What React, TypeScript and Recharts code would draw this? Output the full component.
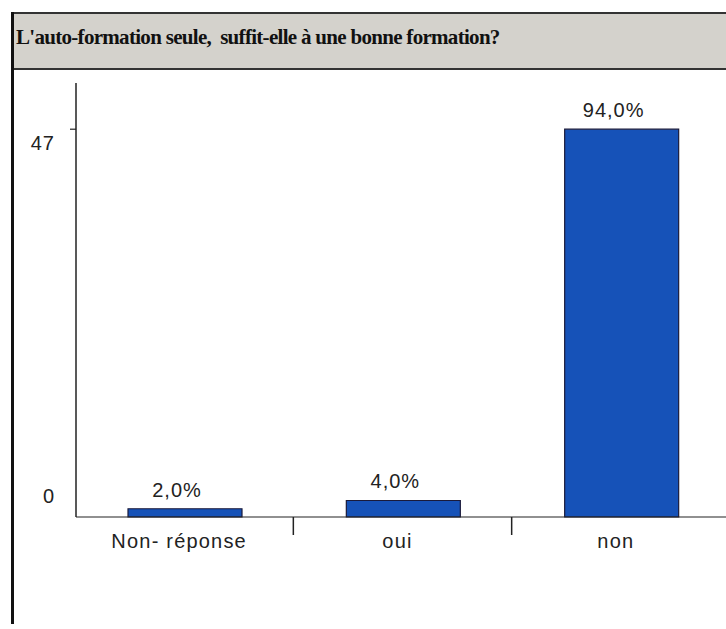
import React from 'react';
import {Bar, BarChart, LabelList, XAxis, YAxis} from 'recharts';

const categories = ['Non- réponse', 'oui', 'non'];
const counts = [1, 2, 47];
const percents = ['2,0%', '4,0%', '94,0%'];
const yTicks = [0, 47];

const data = categories.map((name, i) => ({name, count: counts[i], pct: percents[i]}));

const FONT = '"Liberation Sans", Arial, sans-serif';
const BAND = 655 / 3;

const XTick = (props: any) => {
  const {x, y, payload, index} = props;
  return (
    <g>
      <text x={x - 6} y={y + 31} textAnchor="middle" fill="#222" fontSize={20} letterSpacing={1.2} fontFamily={FONT}>
        {payload.value}
      </text>
      {index < categories.length - 1 && (
        <line x1={x + BAND / 2 - 1} x2={x + BAND / 2 - 1} y1={y} y2={y + 18} stroke="#222" strokeWidth={1.5} />
      )}
    </g>
  );
};

const YTick = (props: any) => {
  const {x, y, payload} = props;
  const top = payload.value !== 0;
  return (
    <g>
      {top && <line x1={x - 6} x2={x} y1={y} y2={y} stroke="#222" strokeWidth={1.2} />}
      <text x={55} y={top ? y + 21 : y - 14} textAnchor="end" fill="#222" fontSize={20} letterSpacing={1} fontFamily={FONT}>
        {payload.value}
      </text>
    </g>
  );
};

const BarLabel = (props: any) => {
  const {x, y, width, value} = props;
  return (
    <text x={x + width / 2 - 8} y={y - 12} textAnchor="middle" fill="#222" fontSize={20} letterSpacing={1} fontFamily={FONT}>
      {value}
    </text>
  );
};

export default function App() {
  return (
    <div style={{position: 'fixed', left: 0, top: 0, width: 726, height: 629, overflow: 'hidden', background: '#fff'}}>
      <div
        style={{
          position: 'absolute',
          left: 11,
          top: 12,
          width: 710,
          height: 54,
          background: '#d4d2cc',
          borderTop: '2px solid #333',
          borderBottom: '2px solid #333',
          fontFamily: '"Liberation Serif", "Times New Roman", serif',
          fontWeight: 'bold',
          fontSize: 21,
          letterSpacing: -0.7,
          color: '#111',
          lineHeight: '46px',
          paddingLeft: 5,
          boxSizing: 'content-box',
          whiteSpace: 'pre',
        }}
      >
        {"L'auto-formation seule,  suffit-elle à une bonne formation?"}
      </div>
      <div style={{position: 'absolute', left: 11, top: 12, width: 3, height: 612, background: '#111'}} />
      <div style={{position: 'absolute', left: 0, top: 0}}>
        <BarChart width={726} height={629} data={data} margin={{top: 83, right: -5, bottom: 0, left: 16}}>
          <XAxis
            dataKey="name"
            height={112}
            tickSize={0}
            tickMargin={0}
            tick={<XTick />}
            axisLine={{stroke: '#222', strokeWidth: 1.2}}
            interval={0}
          />
          <YAxis
            width={60}
            domain={[0, 52.6]}
            ticks={yTicks}
            tickSize={0}
            tickMargin={0}
            tick={<YTick />}
            axisLine={{stroke: '#222', strokeWidth: 1.5}}
          />
          <Bar dataKey="count" fill="#1652b8" stroke="#1a1a3a" strokeWidth={1.2} barSize={114} isAnimationActive={false}>
            <LabelList dataKey="pct" content={<BarLabel />} />
          </Bar>
        </BarChart>
      </div>
    </div>
  );
}
